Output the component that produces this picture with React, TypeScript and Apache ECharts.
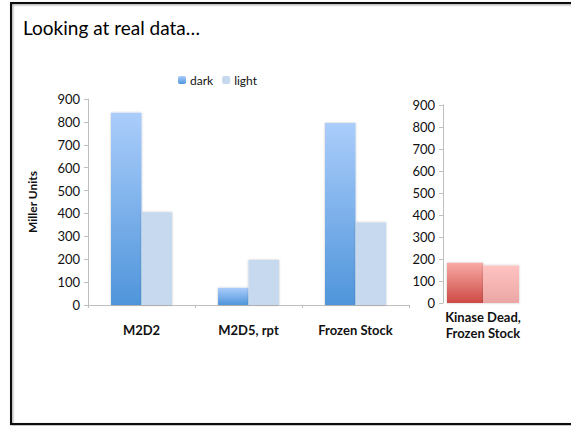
import React, { useEffect, useRef } from "react";
import * as echarts from "echarts";

const categories = ["M2D2", "M2D5, rpt", "Frozen Stock"];
const darkValues = [840, 75, 795];
const lightValues = [405, 197, 360];
const kinaseCategories = ["Kinase Dead,\nFrozen Stock"];
const kinaseDark = [183];
const kinaseLight = [170];
const yMin = 0;
const yMax = 900;
const yInterval = 100;

const FONT = "Lato, 'Open Sans', sans-serif";
const TEXT = "#111111";

export default function App() {
  const ref = useRef<HTMLDivElement>(null);
  useEffect(() => {
    if (!ref.current) return;
    const chart = echarts.init(ref.current, undefined, { renderer: "svg" });
    const blueGrad = new echarts.graphic.LinearGradient(0, 0, 0, 1, [
      { offset: 0, color: "#abcdfb" },
      { offset: 1, color: "#4f95db" },
    ]);
    const redGrad = new echarts.graphic.LinearGradient(0, 0, 0, 1, [
      { offset: 0, color: "#f9aaa6" },
      { offset: 1, color: "#cd4a44" },
    ]);
    const pinkGrad = new echarts.graphic.LinearGradient(0, 0, 0, 1, [
      { offset: 0, color: "#ffc3c1" },
      { offset: 1, color: "#eba6a4" },
    ]);
    const yAxisCommon = {
      type: "value",
      min: yMin,
      max: yMax,
      interval: yInterval,
      splitLine: { show: false },
      axisLine: { show: true, lineStyle: { color: "#bfbfbf", width: 1 } },
      axisTick: { show: true, length: 4, lineStyle: { color: "#bfbfbf" } },
      axisLabel: { color: TEXT, fontSize: 13, fontFamily: FONT, margin: 8 },
    };
    const shadow = { shadowColor: "rgba(0,0,0,0.25)", shadowBlur: 2 };
    chart.setOption({
      animation: false,
      backgroundColor: "#ffffff",
      title: {
        text: "Looking at real data…",
        left: 18,
        top: 13,
        textStyle: { fontSize: 19, fontWeight: "normal", color: "#000", fontFamily: FONT },
      },
      legend: {
        data: ["dark", "light"],
        left: 173,
        top: 69,
        itemWidth: 8,
        itemHeight: 8,
        itemGap: 9,
        textStyle: { color: TEXT, fontSize: 12, fontFamily: FONT, padding: [0, 0, 0, -1] },
      },
      graphic: [
        {
          type: "rect",
          shape: { x: 11, y: 3, width: 600, height: 421 },
          style: { fill: "none", stroke: "#111", lineWidth: 2, shadowColor: "rgba(0,0,0,0.4)", shadowBlur: 2, shadowOffsetX: 1, shadowOffsetY: 1 },
          silent: true,
        },
      ],
      grid: [
        { left: 88, right: 162, top: 99, bottom: 121, containLabel: false },
        { left: 443, width: 80, top: 105, bottom: 123, containLabel: false },
      ],
      xAxis: [
        {
          type: "category",
          gridIndex: 0,
          data: categories,
          axisLine: { show: true, lineStyle: { color: "#bfbfbf" } },
          axisTick: { show: true, length: 3, interval: 0, lineStyle: { color: "#bfbfbf" } },
          axisLabel: { color: TEXT, fontSize: 13, fontWeight: "bold", fontFamily: FONT, margin: 18, interval: 0 },
        },
        {
          type: "category",
          gridIndex: 1,
          data: kinaseCategories,
          axisLine: { show: false },
          axisTick: { show: false },
          axisLabel: { color: TEXT, fontSize: 13, fontWeight: "bold", fontFamily: FONT, margin: 6, lineHeight: 16, interval: 0 },
        },
      ],
      yAxis: [
        {
          ...yAxisCommon,
          gridIndex: 0,
          name: "Miller Units",
          nameLocation: "middle",
          nameGap: 50,
          nameRotate: 90,
          nameTextStyle: { color: TEXT, fontSize: 12, fontWeight: "bold", fontFamily: FONT },
        },
        { ...yAxisCommon, gridIndex: 1 },
      ],
      series: [
        {
          name: "dark",
          type: "bar",
          xAxisIndex: 0,
          yAxisIndex: 0,
          data: darkValues,
          barGap: "0%",
          barCategoryGap: "43%",
          itemStyle: { color: blueGrad, ...shadow },
        },
        {
          name: "light",
          type: "bar",
          xAxisIndex: 0,
          yAxisIndex: 0,
          data: lightValues,
          barGap: "0%",
          barCategoryGap: "43%",
          itemStyle: { color: "#c6d9ee", ...shadow },
        },
        {
          name: "kinase dark",
          type: "bar",
          xAxisIndex: 1,
          yAxisIndex: 1,
          data: kinaseDark,
          barGap: "0%",
          barCategoryGap: "10%",
          itemStyle: { color: redGrad, ...shadow },
        },
        {
          name: "kinase light",
          type: "bar",
          xAxisIndex: 1,
          yAxisIndex: 1,
          data: kinaseLight,
          barGap: "0%",
          barCategoryGap: "10%",
          itemStyle: { color: pinkGrad, ...shadow },
        },
      ],
    });
    return () => chart.dispose();
  }, []);
  return (
    <div
      ref={ref}
      style={{ position: "fixed", left: 0, top: 0, width: 571, height: 426 }}
    />
  );
}
